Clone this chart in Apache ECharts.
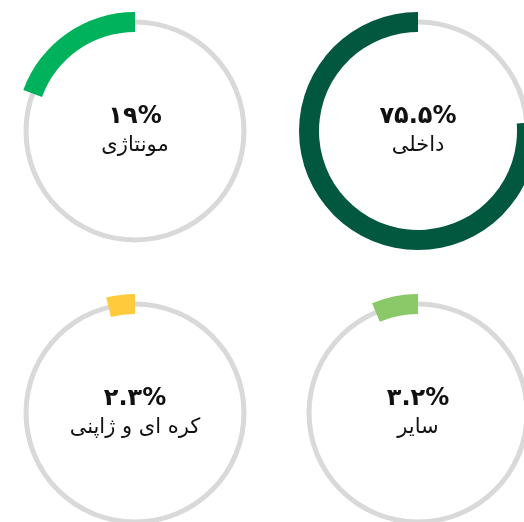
<!DOCTYPE html>
<html>
<head>
<meta charset="utf-8">
<script src="https://cdn.jsdelivr.net/npm/echarts@6/dist/echarts.min.js"></script>
<style>
html,body{margin:0;padding:0;background:#fff;}
#chart{width:524px;height:522px;}
</style>
</head>
<body>
<div id="chart"></div>
<script>
// Categories and values (as shown in the picture)
const names = ['مونتاژی', 'داخلی', 'کره ای و ژاپنی', 'سایر'];
const shares = [19, 75.5, 2.3, 3.2];            // printed percentages
const arcShares = [19.4, 76.2, 3.9, 6.3];       // portion of each ring filled, as drawn
const colors = ['#00b25c', '#02583f', '#ffcb3d', '#8bc968'];
const centers = [[135, 131], [418, 131], [135, 413], [418, 413]];

function toPersian(n) {
  const d = '۰۱۲۳۴۵۶۷۸۹';
  return String(n).replace(/[0-9]/g, c => d[+c]);
}

const series = [];
names.forEach((name, i) => {
  series.push({
    type: 'pie',
    silent: true,
    center: centers[i],
    radius: [106.5, 111.5],
    startAngle: 90,
    label: { show: false },
    labelLine: { show: false },
    itemStyle: { color: '#d9d9d9', borderWidth: 0 },
    emphasis: { disabled: true },
    data: [{ value: 1, name: 'track' }],
    animation: false
  });
  series.push({
    type: 'pie',
    silent: true,
    center: centers[i],
    radius: [99, 119],
    startAngle: 90,
    clockwise: false,
    avoidLabelOverlap: false,
    labelLine: { show: false },
    emphasis: { disabled: true },
    animation: false,
    itemStyle: { borderWidth: 0 },
    data: [
      {
        value: arcShares[i],
        name: name,
        itemStyle: { color: colors[i] },
        label: {
          show: true,
          position: 'center',
          formatter: () => '{v|' + toPersian(shares[i]) + '%}\n{n|' + name + '}',
          rich: {
            v: { fontFamily: 'DejaVu Sans', fontWeight: 'bold', fontSize: 24, color: '#111', lineHeight: 29 },
            n: { fontFamily: 'DejaVu Sans', fontSize: 21, color: '#111', lineHeight: 28 }
          }
        }
      },
      {
        value: 100 - arcShares[i],
        name: 'rest',
        itemStyle: { color: 'rgba(0,0,0,0)' },
        label: { show: false }
      }
    ]
  });
});

const chart = echarts.init(document.getElementById('chart'), null, { renderer: 'canvas' });
chart.setOption({
  backgroundColor: '#ffffff',
  animation: false,
  series: series
});
</script>
</body>
</html>
